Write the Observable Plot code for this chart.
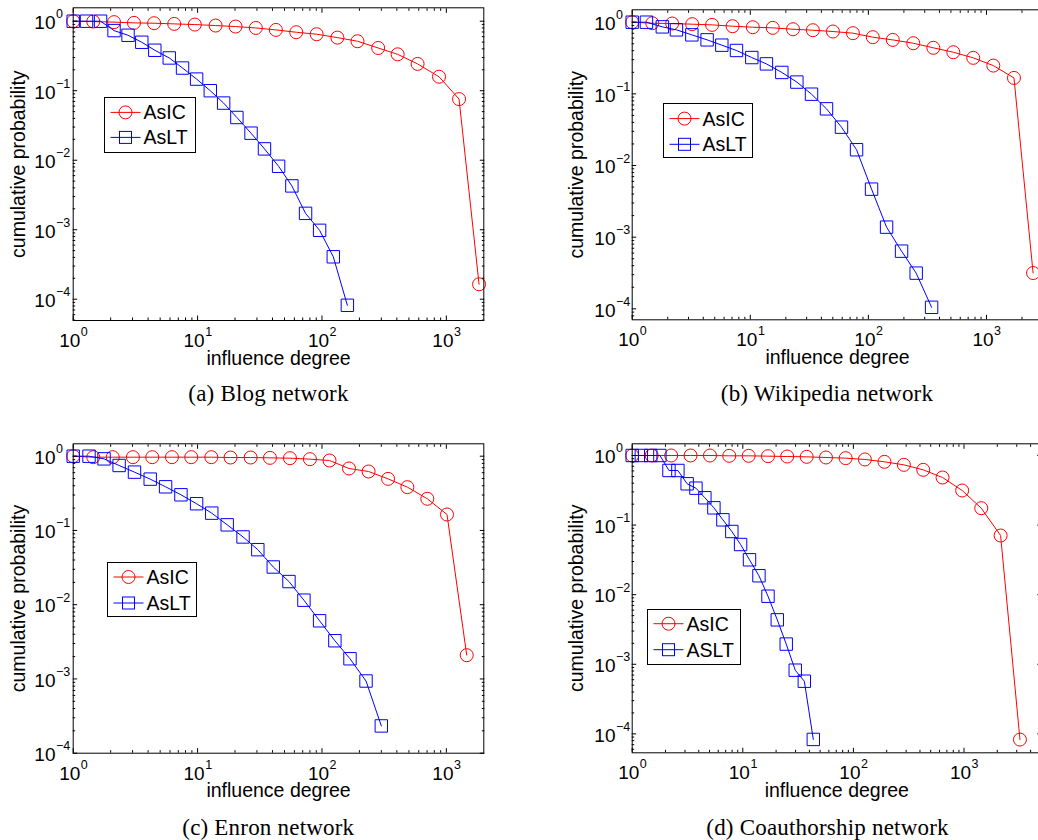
<!DOCTYPE html>
<html><head><meta charset="utf-8">
<script src="https://cdn.jsdelivr.net/npm/d3@7"></script>
<script src="https://cdn.jsdelivr.net/npm/@observablehq/plot@0.6"></script>
<style>
html,body{margin:0;padding:0;background:#fff;}
body{width:1038px;height:840px;overflow:hidden;position:relative;font-family:"Liberation Sans",Arial,sans-serif;}
.cap{position:absolute;width:400px;text-align:center;white-space:nowrap;font-family:"Liberation Serif","Times New Roman",serif;font-size:23px;line-height:23px;letter-spacing:0.2px;color:#000;}
.leg{position:absolute;border:1px solid #000;background:#fff;box-sizing:border-box;}
</style></head>
<body><div id="root"></div>
<script>
// ---------- data ----------
const seriesNames = ["AsIC", "AsLT"];
const seriesNamesD = ["AsIC", "ASLT"];
const captions = ["(a) Blog network", "(b) Wikipedia network", "(c) Enron network", "(d) Coauthorship network"];
const xTitle = "influence degree";
const yTitle = "cumulative probability";
const xMajor = [1, 10, 100, 1000];
const xMajorExp = ["0", "1", "2", "3"];
const yMajor = [1, 0.1, 0.01, 0.001, 0.0001];
const yMajorExp = ["0", "\u22121", "\u22122", "\u22123", "\u22124"];

// (a) Blog
const blogIC_x = [1, 1.45, 2.13, 3.08, 4.47, 6.49, 9.5, 13.96, 20.2, 29.4, 42.6, 62.1, 90.6, 133, 193, 283, 406, 587, 873, 1265, 1832];
const blogIC_y = [1, 0.99, 0.97, 0.946, 0.936, 0.915, 0.895, 0.866, 0.838, 0.80, 0.75, 0.694, 0.65, 0.581, 0.515, 0.412, 0.334, 0.243, 0.159, 0.0758, 0.000164];
const blogLT_x = [1, 1.28, 1.66, 2.13, 2.76, 3.56, 4.53, 5.92, 7.57, 9.82, 12.65, 16.2, 20.7, 26.9, 34.5, 44.8, 57.3, 73.8, 95.7, 123.3, 160];
const blogLT_y = [1, 1, 1, 0.733, 0.628, 0.498, 0.382, 0.296, 0.212, 0.147, 0.100, 0.0664, 0.0412, 0.0245, 0.01456, 0.00818, 0.00427, 0.00172, 0.00098, 0.000408, 0.0000818];
// (b) Wikipedia
const wikiIC_x = [1, 1.48, 2.18, 3.22, 4.75, 7.08, 10.5, 15.5, 23.0, 33.9, 50.1, 74.0, 109, 161, 240, 355, 524, 773, 1143, 1710, 2483];
const wikiIC_y = [1, 0.968, 0.958, 0.938, 0.918, 0.879, 0.851, 0.834, 0.798, 0.773, 0.741, 0.703, 0.618, 0.566, 0.509, 0.439, 0.381, 0.318, 0.248, 0.167, 0.000316];
const wikiLT_x = [1, 1.32, 1.80, 2.37, 3.20, 4.31, 5.74, 7.64, 10.3, 13.7, 18.5, 24.8, 33.0, 44.2, 59.2, 79.4, 106.4, 142.6, 191, 254, 343];
const wikiLT_y = [1, 1, 0.861, 0.782, 0.666, 0.567, 0.478, 0.403, 0.321, 0.262, 0.199, 0.146, 0.0989, 0.0618, 0.0343, 0.0166, 0.00468, 0.00138, 0.000638, 0.000315, 0.000105];
// (c) Enron
const enronIC_x = [1, 1.45, 2.08, 3.02, 4.32, 6.22, 8.89, 12.9, 18.4, 26.7, 38.2, 55.3, 80.0, 115, 165, 237, 340, 486, 703, 1012, 1458];
const enronIC_y = [1, 0.97, 0.97, 0.97, 0.97, 0.97, 0.97, 0.97, 0.96, 0.96, 0.95, 0.94, 0.912, 0.875, 0.683, 0.622, 0.495, 0.383, 0.267, 0.164, 0.00209];
const enronLT_x = [1, 1.34, 1.77, 2.34, 3.11, 4.16, 5.53, 7.35, 9.82, 13.0, 17.3, 23.2, 30.5, 40.6, 54.3, 71.6, 95.7, 127, 168, 226, 300];
const enronLT_y = [1, 1, 0.921, 0.750, 0.610, 0.491, 0.387, 0.302, 0.229, 0.171, 0.119, 0.0817, 0.0551, 0.0322, 0.0205, 0.0115, 0.00607, 0.00327, 0.00187, 0.000938, 0.000233];
// (d) Coauthorship
const coauIC_x = [1, 1.50, 2.25, 3.37, 5.05, 7.54, 11.3, 16.9, 25.2, 37.8, 56.5, 85.1, 127, 191, 286, 428, 640, 963, 1432, 2143, 3206];
const coauIC_y = [1, 1, 1, 1, 1, 0.989, 0.989, 0.978, 0.967, 0.957, 0.936, 0.916, 0.877, 0.811, 0.734, 0.622, 0.483, 0.314, 0.175, 0.0708, 0.0000828];
const coauLT_x = [1, 1.21, 1.47, 1.78, 2.15, 2.59, 3.14, 3.77, 4.54, 5.48, 6.61, 7.96, 9.55, 11.5, 14.0, 16.9, 20.5, 24.7, 29.8, 36.0, 43.4];
const coauLT_y = [1, 1, 1, 1, 0.609, 0.609, 0.392, 0.339, 0.247, 0.177, 0.119, 0.0809, 0.0526, 0.0317, 0.0187, 0.0095, 0.00435, 0.00195, 0.000822, 0.000571, 0.0000832];

// ---------- layout ----------
const RED = "#ff0000", BLUE = "#0000ff";
const FONT = "'Liberation Sans', Arial, Helvetica, sans-serif";
const root = document.getElementById("root");

const minorTicks = [];
for (let e = -6; e <= 4; e++) for (let k = 2; k <= 9; k++) minorTicks.push(k * Math.pow(10, e));

function toRows(xs, ys) { return xs.map((x, i) => ({x, y: ys[i]})); }

function makePanel(p) {
  const ic = toRows(p.icX, p.icY), lt = toRows(p.ltX, p.ltY);
  const [x0, x1] = p.xDomain, [y0, y1] = p.yDomain;
  const xMaj = xMajor.filter(v => v >= x0 * 0.999 && v <= x1 * 1.001);
  const yMaj = yMajor.filter(v => v >= y0 * 0.999 && v <= y1 * 1.001);
  const xMin = minorTicks.filter(v => v > x0 && v < x1);
  const yMin = minorTicks.filter(v => v > y0 && v < y1);
  const xExp = v => xMajorExp[xMajor.indexOf(v)];
  const yExp = v => yMajorExp[yMajor.indexOf(v)];
  const none = () => "";
  const ax = {tickFormat: none, label: null};
  const svg = Plot.plot({
    width: p.W, height: p.H,
    marginLeft: p.mL, marginRight: p.mR, marginTop: p.mT, marginBottom: p.mB,
    x: {type: "log", domain: p.xDomain, axis: null},
    y: {type: "log", domain: p.yDomain, axis: null},
    style: {fontFamily: FONT, background: "transparent", overflow: "visible", maxWidth: "none"},
    marks: [
      Plot.line(ic, {x: "x", y: "y", stroke: RED, strokeWidth: 1}),
      Plot.dot(ic, {x: "x", y: "y", r: 6.5, stroke: RED, fill: "none", strokeWidth: 1}),
      Plot.line(lt, {x: "x", y: "y", stroke: BLUE, strokeWidth: 1}),
      Plot.dot(lt, {x: "x", y: "y", symbol: "square", r: 7, stroke: BLUE, fill: "none", strokeWidth: 1}),
      Plot.axisX({anchor: "bottom", ticks: xMaj, tickSize: -4.5, ...ax}),
      Plot.axisX({anchor: "top", ticks: xMaj, tickSize: -4.5, ...ax}),
      Plot.axisX({anchor: "bottom", ticks: xMin, tickSize: -2.5, ...ax}),
      Plot.axisX({anchor: "top", ticks: xMin, tickSize: -2.5, ...ax}),
      Plot.axisY({anchor: "left", ticks: yMaj, tickSize: -4.5, ...ax}),
      Plot.axisY({anchor: "right", ticks: yMaj, tickSize: -4.5, ...ax}),
      Plot.axisY({anchor: "left", ticks: yMin, tickSize: -2.5, ...ax}),
      Plot.axisY({anchor: "right", ticks: yMin, tickSize: -2.5, ...ax}),
      Plot.frame({stroke: "#000", strokeWidth: 1}),
      // x tick labels 10^k
      Plot.text(xMaj, {x: d => d, frameAnchor: "bottom", lineAnchor: "middle", dy: 20.6, dx: 7.1, textAnchor: "end", text: () => "10", fontSize: 19, fill: "#000"}),
      Plot.text(xMaj, {x: d => d, frameAnchor: "bottom", lineAnchor: "middle", dy: 11.3, dx: 7.6, textAnchor: "start", text: xExp, fontSize: 12.5, fill: "#000"}),
      // y tick labels 10^k
      Plot.text(yMaj, {y: d => d, frameAnchor: "left", lineAnchor: "middle", dx: -p.lab, dy: 1.7, textAnchor: "end", text: () => "10", fontSize: 19, fill: "#000"}),
      Plot.text(yMaj, {y: d => d, frameAnchor: "left", lineAnchor: "middle", dx: -p.lab + 0.5, dy: -7, textAnchor: "start", text: yExp, fontSize: 12.5, fill: "#000"}),
      // axis titles
      Plot.text([xTitle], {frameAnchor: "bottom", lineAnchor: "middle", textAnchor: "middle", dy: 38, text: d => d, fontSize: 19.5, fill: "#000"}),
      Plot.text([yTitle], {frameAnchor: "left", lineAnchor: "middle", textAnchor: "middle", dx: p.yTitleDx, rotate: -90, text: d => d, fontSize: 19.5, fill: "#000"})
    ]
  });
  svg.style.maxWidth = "none";
  svg.style.position = "absolute";
  svg.style.left = p.L + "px";
  svg.style.top = p.T + "px";
  root.appendChild(svg);
}

function makeLegend(g, names) {
  const div = document.createElement("div");
  div.className = "leg";
  div.style.left = g.L + "px"; div.style.top = g.T + "px";
  div.style.width = g.W + "px"; div.style.height = g.H + "px";
  div.innerHTML = `<svg width="${g.W}" height="${g.H}" style="position:absolute;left:-1px;top:-1px;overflow:visible;font-family:${FONT}">
    <line x1="6.5" x2="36.5" y1="${g.r1}" y2="${g.r1}" stroke="${RED}" stroke-width="1"/>
    <circle cx="21.5" cy="${g.r1}" r="6.5" fill="none" stroke="${RED}" stroke-width="1"/>
    <text x="39.5" y="${g.r1}" dy="0.36em" font-size="19.5" fill="#000">${names[0]}</text>
    <line x1="6.5" x2="36.5" y1="${g.r2}" y2="${g.r2}" stroke="${BLUE}" stroke-width="1"/>
    <rect x="${21.5 - 6}" y="${g.r2 - 6}" width="12" height="12" fill="none" stroke="${BLUE}" stroke-width="1"/>
    <text x="39.5" y="${g.r2}" dy="0.36em" font-size="19.5" fill="#000">${names[1]}</text>
  </svg>`;
  root.appendChild(div);
}

function makeCaption(text, cx, baseline) {
  const d = document.createElement("div");
  d.className = "cap";
  d.textContent = text;
  d.style.left = (cx - 200) + "px";
  d.style.top = (baseline - 19.3) + "px";
  root.appendChild(d);
}

const P = Math.pow;
makePanel({L: 0, T: 0, W: 500, H: 372, mL: 72.7, mR: 16.7, mT: 7.3, mB: 52, lab: 17.7, yTitleDx: -54.4,
  xDomain: [1, 2000], yDomain: [P(10, -4.306), P(10, 0.193)],
  icX: blogIC_x, icY: blogIC_y, ltX: blogLT_x, ltY: blogLT_y});
makePanel({L: 520, T: 0, W: 545, H: 372, mL: 111.7, mR: 22.7, mT: 9.3, mB: 52.7, lab: 16.7, yTitleDx: -55,
  xDomain: [1, 3000], yDomain: [P(10, -4.153), P(10, 0.173)],
  icX: wikiIC_x, icY: wikiIC_y, ltX: wikiLT_x, ltY: wikiLT_y});
makePanel({L: 0, T: 420, W: 500, H: 385, mL: 72.7, mR: 16.7, mT: 23.3, mB: 52.3, lab: 17.7, yTitleDx: -54.4,
  xDomain: [1, 2000], yDomain: [1e-4, P(10, 0.167)],
  icX: enronIC_x, icY: enronIC_y, ltX: enronLT_x, ltY: enronLT_y});
makePanel({L: 520, T: 420, W: 545, H: 385, mL: 111.7, mR: 24.2, mT: 23.3, mB: 52.7, lab: 16.7, yTitleDx: -55,
  xDomain: [1, 5000], yDomain: [P(10, -4.272), P(10, 0.168)],
  icX: coauIC_x, icY: coauIC_y, ltX: coauLT_x, ltY: coauLT_y});

makeLegend({L: 104.3, T: 97.3, W: 91.4, H: 56, r1: 15.4, r2: 40.4}, seriesNames);
makeLegend({L: 662.7, T: 102.7, W: 90.6, H: 55.6, r1: 15.6, r2: 41.3}, seriesNames);
makeLegend({L: 106.7, T: 561.7, W: 90.6, H: 55.6, r1: 15, r2: 41}, seriesNames);
makeLegend({L: 646.7, T: 609.3, W: 94, H: 55.7, r1: 14.7, r2: 40.7}, seriesNamesD);

makeCaption(captions[0], 268.5, 401.5);
makeCaption(captions[1], 827, 401.5);
makeCaption(captions[2], 268.3, 835);
makeCaption(captions[3], 827.5, 835);
</script>
</body></html>
